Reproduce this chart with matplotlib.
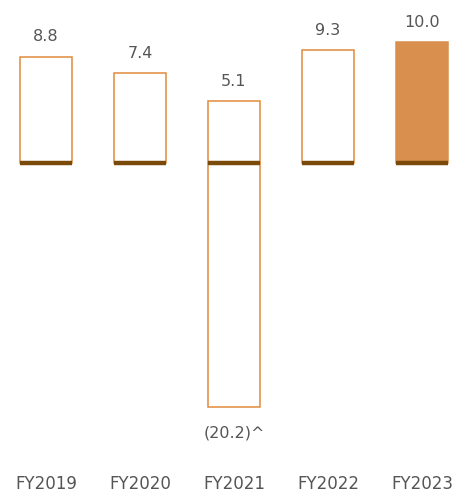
import matplotlib.pyplot as plt

years = ['FY2019', 'FY2020', 'FY2021', 'FY2022', 'FY2023']
positive = [8.8, 7.4, 5.1, 9.3, 10.0]
negative = [0, 0, -20.2, 0, 0]
pos_labels = ['8.8', '7.4', '5.1', '9.3', '10.0']
neg_labels = ['', '', '(20.2)^', '', '']

orange = '#e08a3c'
fill = '#d98f4e'
brown = '#7a4a0a'
grey = '#555555'

fig = plt.figure(figsize=(4.59, 4.94), dpi=100)
ax = fig.add_axes([0, 0, 1, 1])

x = range(len(years))
width = 0.553
faces = ['white'] * 4 + [fill]
edges = [orange] * 4 + [fill]

ax.bar(x, positive, width=width, color=faces, edgecolor=edges, linewidth=1.1)
for i, v in enumerate(negative):
    if v < 0:
        ax.bar(i, v, width=width, color='white', edgecolor=orange, linewidth=1.1)

# dark baseline under each bar
for i in x:
    ax.hlines(0, i - width / 2, i + width / 2, color=brown, linewidth=3.2)

for i, (v, lab) in enumerate(zip(positive, pos_labels)):
    ax.text(i, v + 1.65, lab, ha='center', va='center', fontsize=11.5, color=grey)
for i, (v, lab) in enumerate(zip(negative, neg_labels)):
    if lab:
        ax.text(i, v - 2.1, lab, ha='center', va='center', fontsize=11.5, color=grey)

for i, yr in enumerate(years):
    ax.text(i, -26.5, yr, ha='center', va='center', fontsize=12, color=grey)

ax.set_xlim(-46 / 94, (459 - 46) / 94)
ax.set_ylim(-(494 - 163) / 12.1, 163 / 12.1)
ax.axis('off')

fig.savefig('out.png', dpi=100)
